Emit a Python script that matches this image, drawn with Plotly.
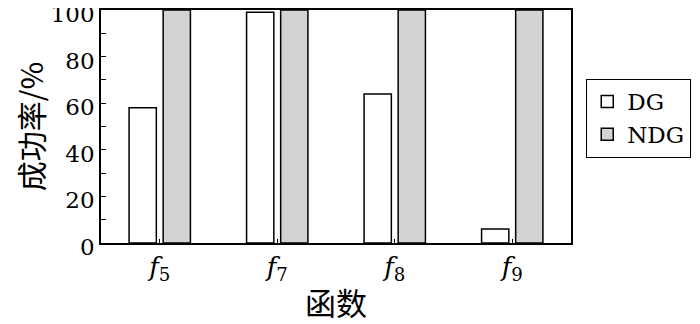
import plotly.graph_objects as go

categories = ["f5", "f7", "f8", "f9"]
tick_labels = ["<i>f</i><sub>5</sub>", "<i>f</i><sub>7</sub>", "<i>f</i><sub>8</sub>", "<i>f</i><sub>9</sub>"]
dg_values = [58, 99, 64, 6]
ndg_values = [100, 100, 100, 100]

serif = "DejaVu Serif"
cjk = "Noto Sans CJK SC"

fig = go.Figure()
fig.add_trace(go.Bar(x=categories, y=dg_values, name="DG",
                     marker=dict(color="white", line=dict(color="black", width=1.5))))
fig.add_trace(go.Bar(x=categories, y=ndg_values, name="NDG",
                     marker=dict(color="#d3d3d3", line=dict(color="black", width=1.5))))

# page body has an 8px default margin, so the figure is 692x316
fig.update_layout(
    width=692, height=316,
    margin=dict(l=93, r=129, t=2, b=81, autoexpand=False),
    plot_bgcolor="white", paper_bgcolor="white",
    barmode="group", bargap=0.42, bargroupgap=0.2,
    font=dict(family=serif, size=24, color="black"),
    showlegend=True,
    legend=dict(x=1.032, y=0.705, xanchor="left", yanchor="top",
                bordercolor="black", borderwidth=1.2,
                font=dict(family=serif, size=23),
                itemwidth=30, tracegroupgap=0),
)
fig.update_xaxes(
    automargin=False,
    tickmode="array", tickvals=categories, ticktext=tick_labels,
    showline=True, linecolor="black", linewidth=1.5, mirror=True,
    ticks="inside", ticklen=4, tickcolor="black",
    tickfont=dict(family=serif, size=26),
    title=dict(text="函数", font=dict(family=cjk, size=31), standoff=12),
)
fig.update_yaxes(
    automargin=False,
    range=[0, 100], dtick=20, tick0=0,
    ticklabeloverflow="allow", ticklabelshift=4,
    showline=True, linecolor="black", linewidth=1.5, mirror=True,
    ticks="inside", ticklen=5, tickcolor="black",
    minor=dict(dtick=10, ticks="inside", ticklen=5, tickcolor="black", showgrid=False),
    showgrid=False, zeroline=False,
    tickfont=dict(family=serif, size=23),
    title=dict(text="成功率/%", font=dict(family=cjk, size=30), standoff=11),
)

fig.write_html("out.html")
